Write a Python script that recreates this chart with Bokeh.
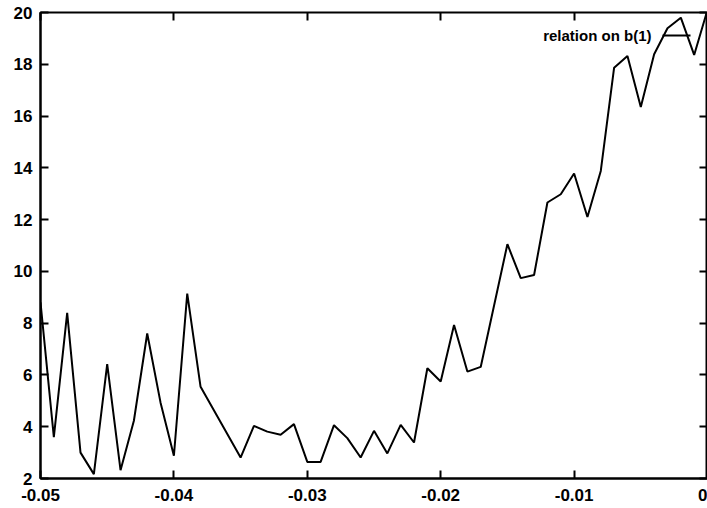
from bokeh.plotting import figure
from bokeh.models import (Range1d, LinearAxis, FixedTicker, Label, Arrow)
from bokeh.embed import file_html
from bokeh.resources import INLINE

# --- data ---
x_vals = [-0.050, -0.049, -0.048, -0.047, -0.046, -0.045, -0.044, -0.043,
          -0.042, -0.041, -0.040, -0.039, -0.038, -0.035, -0.034, -0.033,
          -0.032, -0.031, -0.030, -0.029, -0.028, -0.027, -0.026, -0.025,
          -0.024, -0.023, -0.022, -0.021, -0.020, -0.019, -0.018, -0.017,
          -0.015, -0.014, -0.013, -0.012, -0.011, -0.010, -0.009, -0.008,
          -0.007, -0.006, -0.005, -0.004, -0.003, -0.002, -0.001, 0.000]
y_vals = [8.8, 3.6, 8.4, 3.0, 2.17, 6.42, 2.32, 4.23,
          7.6, 4.93, 2.88, 9.14, 5.54, 2.81, 4.03, 3.81,
          3.69, 4.1, 2.64, 2.64, 4.06, 3.56, 2.81, 3.84,
          2.97, 4.07, 3.39, 6.26, 5.75, 7.93, 6.13, 6.31,
          11.05, 9.74, 9.86, 12.66, 12.98, 13.78, 12.1, 13.88,
          17.87, 18.32, 16.35, 18.39, 19.39, 19.8, 18.36, 20.1]

x_ticks = [-0.05, -0.04, -0.03, -0.02, -0.01, 0.0]
x_tick_labels = ["-0.05", "-0.04", "-0.03", "-0.02", "-0.01", "0"]
y_ticks = [2, 4, 6, 8, 10, 12, 14, 16, 18, 20]
series_label = "relation on b(1)"

FONT = "Liberation Sans"
FS = "17px"

p = figure(width=707, height=508, output_backend="svg", toolbar_location=None,
           x_range=Range1d(-0.05, 0.0), y_range=Range1d(2, 20),
           x_axis_location=None, y_axis_location=None,
           min_border_left=40, min_border_right=0, min_border_top=12,
           min_border_bottom=30)
p.xgrid.visible = False
p.ygrid.visible = False
p.background_fill_color = "white"
p.border_fill_color = "white"
p.outline_line_color = "black"
p.outline_line_width = 2


def style_axis(ax, standoff):
    ax.major_tick_in = 8
    ax.major_tick_out = 0
    ax.minor_tick_line_color = None
    ax.major_tick_line_width = 2
    ax.major_tick_line_color = "black"
    ax.axis_line_width = 2
    ax.axis_line_color = "black"
    ax.major_label_text_font = FONT
    ax.major_label_text_font_style = "bold"
    ax.major_label_text_color = "black"
    ax.major_label_text_font_size = FS
    ax.major_label_standoff = standoff


def tick_only_axis(ticks):
    # ticks drawn as minor ticks so that no label texts are produced
    ax = LinearAxis(ticker=FixedTicker(ticks=[], minor_ticks=ticks))
    ax.axis_line_color = None
    ax.major_tick_line_color = None
    ax.minor_tick_in = 8
    ax.minor_tick_out = 0
    ax.minor_tick_line_width = 2
    ax.minor_tick_line_color = "black"
    ax.major_label_standoff = 0
    return ax


xb = LinearAxis(ticker=FixedTicker(ticks=x_ticks),
                major_label_overrides={t: s for t, s in zip(x_ticks, x_tick_labels)})
style_axis(xb, 10)
p.add_layout(xb, "below")

yl = LinearAxis(ticker=FixedTicker(ticks=y_ticks))
style_axis(yl, 8)
p.add_layout(yl, "left")

p.add_layout(tick_only_axis(y_ticks), "right")
p.add_layout(tick_only_axis(x_ticks), "above")

r = p.line(x_vals, y_vals, line_color="black", line_width=2)

# gnuplot-style key: text, then a line sample to its right
lbl = Label(x=611, y=443, x_units="screen", y_units="screen", text=series_label,
            text_font=FONT, text_font_style="bold", text_font_size="15px",
            text_align="right", text_baseline="middle", text_color="black")
p.add_layout(lbl)

sample = Arrow(x_start=622, y_start=443, x_end=650, y_end=443,
               start_units="screen", end_units="screen", end=None, start=None,
               line_color="black", line_width=2)
p.add_layout(sample)

open("out.html", "w").write(file_html(p, INLINE))
